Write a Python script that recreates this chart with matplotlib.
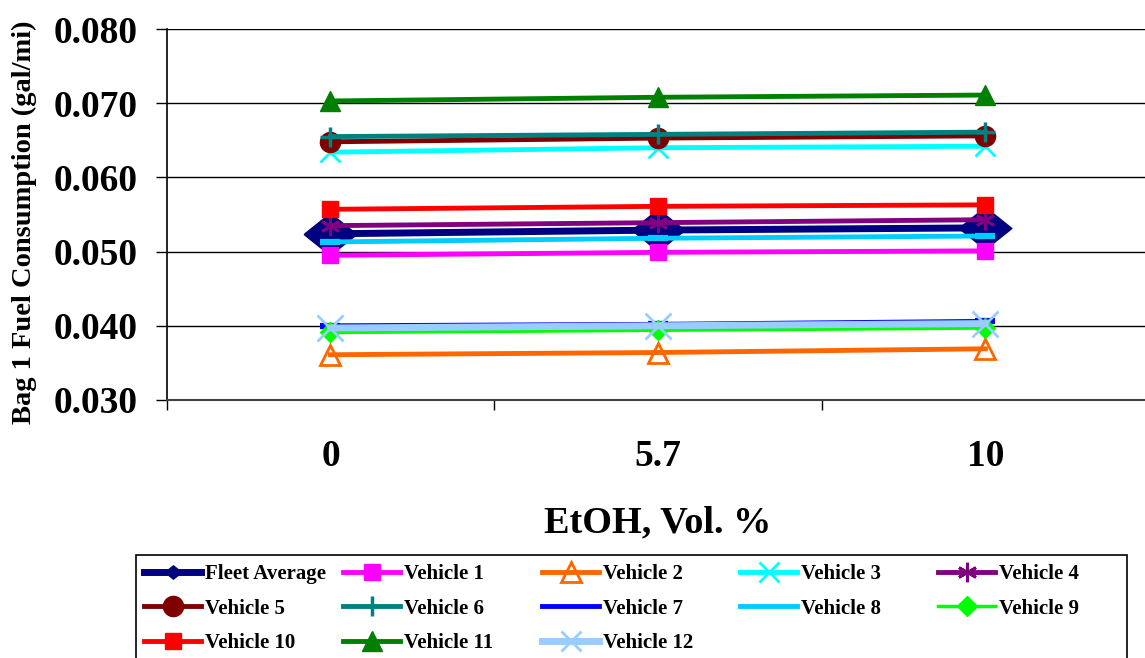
import numpy as np
import matplotlib
matplotlib.use('Agg')
import matplotlib.pyplot as plt
from matplotlib.patches import Rectangle

plt.rcParams.update({'font.family': ['Liberation Serif', 'DejaVu Serif'],
                     'font.weight': 'bold',
                     'axes.unicode_minus': False})

# data
etoh_labels = ['0', '5.7', '10']
fleet = [0.0524, 0.0529, 0.0532]
veh1 = [0.0495, 0.0499, 0.0501]
veh2 = [0.0361, 0.0364, 0.0369]
veh3 = [0.0634, 0.0640, 0.0642]
veh4 = [0.0535, 0.0539, 0.0543]
veh5 = [0.0648, 0.0653, 0.0656]
veh6 = [0.0655, 0.0658, 0.0661]
veh7 = [0.0400, 0.0402, 0.0406]
veh8 = [0.0513, 0.0518, 0.0521]
veh9 = [0.0391, 0.0394, 0.0397]
veh10 = [0.0557, 0.0561, 0.0563]
veh11 = [0.0703, 0.0708, 0.0711]
veh12 = [0.0397, 0.0400, 0.0403]

diamond = [(-1, 0), (0, 0.8), (1, 0), (0, -0.8), (-1, 0)]

series = [
    ('Fleet Average', fleet, dict(color='#000080', lw=5, marker=diamond, ms=38)),
    ('Vehicle 1', veh1, dict(color='#FF00FF', lw=3.5, marker='s', ms=11)),
    ('Vehicle 2', veh2, dict(color='#FF6600', lw=3.5, marker='^', ms=14, mfc='none', mew=2)),
    ('Vehicle 3', veh3, dict(color='#00FFFF', lw=3.5, marker='x', ms=14, mew=2)),
    ('Vehicle 4', veh4, dict(color='#800080', lw=3.5, marker=(6, 2, 0), ms=14, mew=2)),
    ('Vehicle 5', veh5, dict(color='#800000', lw=3.5, marker='o', ms=14.5)),
    ('Vehicle 6', veh6, dict(color='#008080', lw=3.5, marker='+', ms=14, mew=2.5)),
    ('Vehicle 7', veh7, dict(color='#0000FF', lw=3.5, marker='_', ms=14, mew=4.5)),
    ('Vehicle 8', veh8, dict(color='#00CCFF', lw=3.5, marker='_', ms=14, mew=4.5)),
    ('Vehicle 9', veh9, dict(color='#00FF00', lw=2.5, marker='D', ms=10)),
    ('Vehicle 10', veh10, dict(color='#FF0000', lw=3.5, marker='s', ms=11)),
    ('Vehicle 11', veh11, dict(color='#008000', lw=3.5, marker='^', ms=14.5)),
    ('Vehicle 12', veh12, dict(color='#99CCFF', lw=5, marker='x', ms=19, mew=2)),
]

fig = plt.figure(figsize=(11.45, 6.58), dpi=100)
ax = fig.add_axes([0.1456, 0.3921, 0.858, 0.5638])

x = np.arange(len(etoh_labels))
lines = []
for name, vals, kw in series:
    ln, = ax.plot(x, vals, label=name, clip_on=False, **kw)
    lines.append(ln)

ax.set_xlim(-0.5, 2.5)
ax.set_ylim(0.030, 0.080)
ax.set_yticks(np.arange(0.030, 0.0801, 0.010))
ax.set_yticklabels(['%.3f' % v for v in np.arange(0.030, 0.0801, 0.010)])
ax.yaxis.grid(True, color='black', lw=1)
ax.set_axisbelow(True)
ax.tick_params(axis='y', length=8, width=1, pad=13, labelsize=27)

ax.set_xticks([-0.5, 0.5, 1.5, 2.5])
ax.set_xticklabels([])
ax.set_xticks(x, minor=True)
ax.set_xticklabels(etoh_labels, minor=True)
ax.tick_params(axis='x', which='major', length=7, width=1)
ax.tick_params(axis='x', which='minor', length=0, pad=28, labelsize=27)

for s in ['top', 'right']:
    ax.spines[s].set_visible(False)
ax.spines['left'].set_linewidth(1.2)
ax.spines['bottom'].set_linewidth(1.5)
ax.spines['bottom'].set_color('#404040')

ax.set_xlabel('EtOH, Vol. %', fontsize=27.5, fontweight='bold')
ax.xaxis.set_label_coords(0.5, -0.285)
ax.set_ylabel('Bag 1 Fuel Consumption (gal/mi)', fontsize=20.5, fontweight='bold')
ax.yaxis.set_label_coords(-0.132, 0.48)

# legend box, five columns laid out like the original
fig.add_artist(Rectangle((136 / 1145, -0.02), (1127 - 136) / 1145, 0.02 + 1 - 555 / 658,
                         transform=fig.transFigure, fill=False, ec='black', lw=1.2))
col_x = [140, 339, 538, 736, 934]
for c in range(5):
    hs = lines[c::5]
    leg = fig.legend(hs, [h.get_label() for h in hs], loc='upper left',
                     bbox_to_anchor=(col_x[c] / 1145, 1 - 560 / 658),
                     frameon=False, handlelength=2.75, handletextpad=0.15,
                     labelspacing=0.7, borderaxespad=0, borderpad=0.2,
                     prop={'weight': 'bold', 'size': 15})
    for h in leg.legend_handles:
        lab = h.get_label()
        if lab == 'Fleet Average':
            h.set_markersize(12)
        elif lab == 'Vehicle 12':
            h.set_markersize(14)
        elif lab in ('Vehicle 7', 'Vehicle 8'):
            h.set_marker('None')

fig.savefig('out.png', dpi=100)
